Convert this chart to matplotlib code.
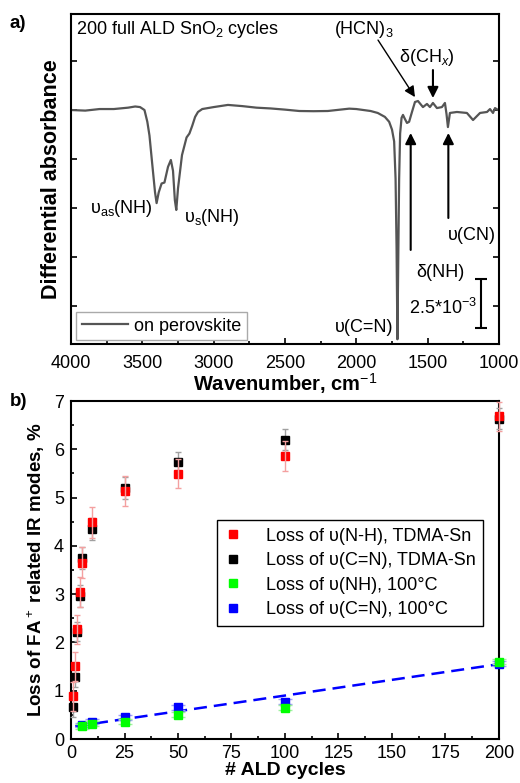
import numpy as np
import matplotlib
matplotlib.use("Agg")
import matplotlib.pyplot as plt
from matplotlib.ticker import MultipleLocator, NullFormatter

plt.rcParams['font.family'] = ['Liberation Sans', 'DejaVu Sans']
plt.rcParams['mathtext.fontset'] = 'custom'
plt.rcParams['mathtext.rm'] = 'Liberation Sans'
plt.rcParams['mathtext.it'] = 'Liberation Sans:italic'
plt.rcParams['mathtext.bf'] = 'Liberation Sans:bold'

# ---------------- data: panel a (spectrum, absorbance in units of 1e-3) ----------------
wavenumber = [4000, 3900, 3800, 3700, 3600, 3550, 3516, 3485, 3465, 3450, 3432, 3411, 3400,
              3385, 3365, 3345, 3320, 3300, 3285, 3272, 3262, 3250, 3222, 3190, 3170, 3150,
              3130, 3110, 3080, 3000, 2900, 2800, 2700, 2600, 2500, 2400, 2300, 2200, 2100,
              2050, 2000, 1950, 1900, 1850, 1800, 1770, 1750, 1735, 1725, 1718, 1712, 1706,
              1700, 1693, 1683, 1673, 1660, 1645, 1630, 1610, 1589, 1568, 1550, 1533, 1505,
              1484, 1463, 1435, 1400, 1379, 1368, 1358, 1344, 1295, 1225, 1182, 1133, 1084,
              1063, 1042, 1028, 1007, 1000]
absorbance_milli = [0.0, -0.03, 0.05, 0.05, 0.12, 0.18, 0.15, 0.0, -0.6, -1.3, -2.65, -4.2, -4.75,
                    -4.2, -3.75, -3.7, -2.9, -2.55, -3.1, -4.6, -5.1, -4.0, -2.3, -1.4, -1.2, -0.8,
                    -0.35, -0.1, 0.05, 0.15, 0.26, 0.2, 0.12, 0.08, 0.02, -0.05, -0.06, -0.05, 0.03,
                    0.07, 0.05, 0.0, -0.05, -0.15, -0.35, -0.6, -1.0, -1.6, -3.5, -7.0, -11.7, -7.5,
                    -3.5, -1.2, -0.4, -0.25, -0.45, -0.66, -0.6, -0.1, 0.41, 0.46, 0.3, 0.15, 0.31,
                    0.15, 0.36, 0.10, 0.15, 0.36, -0.2, -0.87, -0.15, -0.10, -0.15, -0.51, -0.15, -0.10,
                    0.05, -0.15, 0.10, 0.0, 0.02]
scale_bar_milli = 2.5

# ---------------- data: panel b ----------------
cycles_tdma = [1, 2, 3, 4, 5, 10, 25, 50, 100, 200]
loss_nh_tdma = [0.89, 1.51, 2.27, 3.05, 3.65, 4.49, 5.13, 5.49, 5.86, 6.68]
err_nh_tdma = [0.3, 0.3, 0.3, 0.31, 0.32, 0.32, 0.31, 0.3, 0.31, 0.3]
loss_cn_tdma = [0.66, 1.28, 2.22, 2.96, 3.75, 4.35, 5.2, 5.73, 6.2, 6.63]
err_cn_tdma = [0.2, 0.2, 0.2, 0.22, 0.22, 0.22, 0.22, 0.22, 0.22, 0.22]

cycles_100c = [5, 10, 25, 50, 100, 200]
loss_nh_100c = [0.26, 0.32, 0.36, 0.50, 0.65, 1.60]
err_nh_100c = [0.05, 0.05, 0.05, 0.05, 0.05, 0.05]
loss_cn_100c = [0.29, 0.36, 0.45, 0.66, 0.77, 1.56]
err_cn_100c = [0.05, 0.05, 0.05, 0.05, 0.05, 0.05]

fit_slope = 0.0065
fit_intercept = 0.25
fit_range = [2, 200]

labels_b = ['Loss of \u03c5(N-H), TDMA-Sn', 'Loss of \u03c5(C=N), TDMA-Sn',
            'Loss of \u03c5(NH), 100\u00b0C', 'Loss of \u03c5(C=N), 100\u00b0C']

FS = 13

fig = plt.figure(figsize=(5.2, 7.83), dpi=100)

# ---------------- panel a ----------------
ax1 = fig.add_axes([71/520, 1-344/783, 428/520, 330/783])
line, = ax1.plot(wavenumber, absorbance_milli, color='#555555', lw=1.6, label='on perovskite')
ax1.set_xlim(4000, 1000)
ax1.set_ylim(-11.94, 4.90)
ax1.xaxis.set_major_locator(MultipleLocator(500))
ax1.xaxis.set_minor_locator(MultipleLocator(250))
ax1.yaxis.set_major_locator(MultipleLocator(2.5))
ax1.yaxis.set_major_formatter(NullFormatter())
ax1.tick_params(axis='both', which='both', direction='in', width=1.2)
ax1.tick_params(axis='x', which='major', length=4, labelsize=FS, pad=8)
ax1.tick_params(axis='x', which='minor', length=2.5)
ax1.tick_params(axis='y', which='major', length=4, right=True, left=True)
for s in ax1.spines.values():
    s.set_linewidth(1.5)
ax1.set_xlabel('Wavenumber, cm$^{-1}$', fontsize=14.5, fontweight='bold', labelpad=-1)
ax1.set_ylabel('Differential absorbance', fontsize=15.5, fontweight='bold', labelpad=3)

ax1.text(0.012, 0.952, '200 full ALD SnO$_2$ cycles', transform=ax1.transAxes,
         fontsize=FS, ha='left', va='center')
ax1.text(3650, -5.0, '\u03c5$_{\\mathregular{as}}$(NH)', fontsize=FS, ha='center', va='center')
ax1.text(3012, -5.5, '\u03c5$_{\\mathregular{s}}$(NH)', fontsize=FS, ha='center', va='center')
ax1.text(1946, -11.1, '\u03c5(C=N)', fontsize=FS, ha='center', va='center')
ax1.text(1946, 4.1, '(HCN)$_3$', fontsize=FS, ha='center', va='center')
ax1.text(1505, 2.7, '\u03b4(CH$_x$)', fontsize=FS, ha='center', va='center')
ax1.text(1413, -8.3, '\u03b4(NH)', fontsize=FS, ha='center', va='center')
ax1.text(1189, -6.4, '\u03c5(CN)', fontsize=FS, ha='center', va='center')
ax1.text(1393, -10.1, '2.5*10$^{-3}$', fontsize=FS, ha='center', va='center')

arrow_kw = dict(arrowstyle='-|>', color='black', lw=1.5, mutation_scale=16,
                shrinkA=0, shrinkB=0)
ax1.annotate('', xy=(1589, 0.66), xytext=(1848, 3.57), arrowprops=dict(arrow_kw, lw=1.0))
ax1.annotate('', xy=(1463, 0.61), xytext=(1463, 2.04), arrowprops=arrow_kw)
ax1.annotate('', xy=(1619, -1.17), xytext=(1619, -7.14), arrowprops=arrow_kw)
ax1.annotate('', xy=(1355, -1.17), xytext=(1355, -5.51), arrowprops=arrow_kw)

# scale bar
sb_x = 1126
sb_top = -8.62
ax1.errorbar([sb_x], [sb_top - scale_bar_milli / 2], yerr=[scale_bar_milli / 2], fmt='none',
             ecolor='black', elinewidth=1.5, capsize=4, capthick=1.5)

leg1 = ax1.legend(handles=[line], loc='lower left', bbox_to_anchor=(0.012, 0.012),
                  borderaxespad=0, fontsize=FS, handlelength=2.6, handletextpad=0.3,
                  fancybox=False, framealpha=1, borderpad=0.3)
leg1.get_frame().set_edgecolor('#aaaaaa')
leg1.get_frame().set_linewidth(1.0)

fig.text(10/520, 1-23/783, 'a)', fontsize=13.5, fontweight='bold', ha='left', va='center')

# ---------------- panel b ----------------
ax2 = fig.add_axes([71/520, 1-739/783, 428/520, 338/783])
ms = 5.2
h1 = ax2.errorbar(cycles_tdma, loss_nh_tdma, yerr=err_nh_tdma, fmt='s', color='#ff0000', ms=ms,
                  ecolor='#f4a0a0', elinewidth=1, capsize=2.5, capthick=1, clip_on=False, zorder=4)
h2 = ax2.errorbar(cycles_tdma, loss_cn_tdma, yerr=err_cn_tdma, fmt='s', color='#000000', ms=ms,
                  ecolor='#a0a0a0', elinewidth=1, capsize=2.5, capthick=1, clip_on=False, zorder=3)
h3 = ax2.errorbar(cycles_100c, loss_nh_100c, yerr=err_nh_100c, fmt='s', color='#00ff00', ms=ms,
                  ecolor='#a0f0a0', elinewidth=1, capsize=5, capthick=1, clip_on=False, zorder=4)
h4 = ax2.errorbar(cycles_100c, loss_cn_100c, yerr=err_cn_100c, fmt='s', color='#0000ff', ms=ms,
                  ecolor='#a0a0f8', elinewidth=1, capsize=5, capthick=1, clip_on=False, zorder=3)
for c in h1.get_children():
    c.set_zorder(5)
fx = np.array(fit_range, dtype=float)
ax2.plot(fx, fit_intercept + fit_slope * fx, color='#0000ff', lw=1.8, dashes=(5.2, 2.8), zorder=2)

ax2.set_xlim(0, 200)
ax2.set_ylim(0, 7)
ax2.xaxis.set_major_locator(MultipleLocator(25))
ax2.xaxis.set_minor_locator(MultipleLocator(12.5))
ax2.yaxis.set_major_locator(MultipleLocator(1))
ax2.yaxis.set_minor_locator(MultipleLocator(0.5))
ax2.tick_params(axis='both', which='both', direction='in', width=1.2)
ax2.tick_params(axis='both', which='major', length=4, labelsize=FS)
ax2.tick_params(axis='x', which='major', pad=4)
ax2.tick_params(axis='y', which='major', pad=5)
ax2.tick_params(axis='both', which='minor', length=2.5)
for s in ax2.spines.values():
    s.set_linewidth(1.5)
ax2.set_xlabel('# ALD cycles', fontsize=14, fontweight='bold', labelpad=0)
ax2.set_ylabel('Loss of FA$^+$ related IR modes, %', fontsize=13.5, fontweight='bold', labelpad=5)

handles = [plt.Line2D([], [], marker='s', ls='none', color=c, ms=ms)
           for c in ['#ff0000', '#000000', '#00ff00', '#0000ff']]
leg2 = ax2.legend(handles, labels_b, loc='upper left', bbox_to_anchor=(0.341, 0.647),
                  borderaxespad=0, fontsize=FS, handlelength=1.0, handletextpad=1.3,
                  fancybox=False, framealpha=1, borderpad=0.4, labelspacing=0.42)
leg2.get_frame().set_edgecolor('black')
leg2.get_frame().set_linewidth(1.0)

fig.text(10/520, 1-402/783, 'b)', fontsize=13.5, fontweight='bold', ha='left', va='center')

fig.savefig('out.png', dpi=100)
